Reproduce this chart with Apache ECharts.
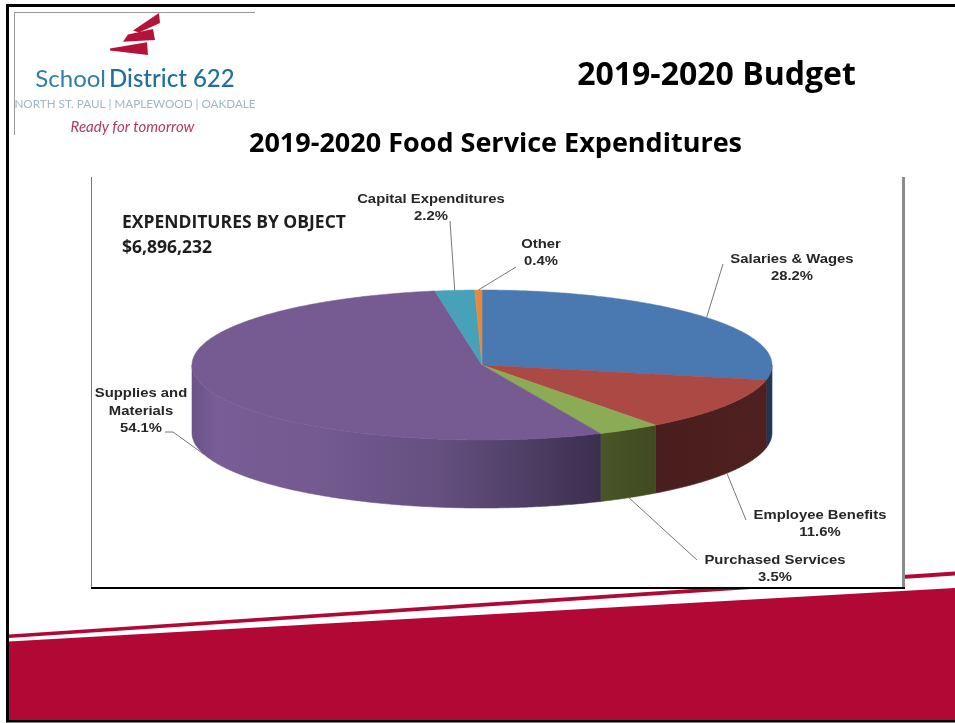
<!DOCTYPE html>
<html>
<head>
<meta charset="utf-8">
<style>html,body{margin:0;padding:0;background:#fff}#main{width:955px;height:723px}</style>
<script src="https://cdn.jsdelivr.net/npm/echarts@6/dist/echarts.min.js"></script>
</head>
<body>
<div id="main"></div>
<script>
// Expenditure shares, percent of the food service budget
const categories = ['Salaries & Wages', 'Employee Benefits', 'Purchased Services',
  'Supplies and\nMaterials', 'Capital Expenditures', 'Other'];
const shares = [28.2, 11.6, 3.5, 54.1, 2.2, 0.4];

// Slice paint
const topColors = ['#4a79b1', '#ab4945', '#8cab55', '#765b92', '#46a1b9', '#e58a3c'];
const wallColors = [
  [[0, '#1c3552'], [1, '#1f3a5a']],
  [[0, '#4a1e1e'], [1, '#4f2020']],
  [[0, '#4a5628'], [1, '#3f4a20']],
  [[0, '#6b5288'], [0.06, '#785d96'], [0.3, '#745a90'], [0.6, '#655080'], [1, '#3b2f4f']],
  [[0, '#2c6473'], [1, '#2c6473']],
  [[0, '#8f5424'], [1, '#8f5424']]
];

// Pie geometry in page pixels
const CX = 482, CY = 365, RX = 290, RY = 75, DEPTH = 68;

// Label placement: text centre, then the outer end(s) of the leader line
const labelCenters = [[792, 268], [820, 524], [775, 569], [141, 411], [431, 208], [541, 253]];
const leaderEnds = [
  [[723, 264]],
  [[746, 520]],
  [[697, 560]],
  [[173, 432], [165, 432]],
  [[450, 221]],
  [[516, 267]]
];

const total = shares.reduce((a, b) => a + b, 0);
const spans = [];
shares.reduce((acc, v) => {
  spans.push([acc / total * Math.PI * 2, (acc + v) / total * Math.PI * 2]);
  return acc + v;
}, 0);

function rimPoint(theta, drop) {
  return [CX + RX * Math.sin(theta), CY - RY * Math.cos(theta) + (drop || 0)];
}
function arcPoints(a, b, drop) {
  const n = Math.max(2, Math.ceil((b - a) / 0.01));
  const pts = [];
  for (let i = 0; i <= n; i++) pts.push(rimPoint(a + (b - a) * i / n, drop));
  return pts;
}

// Only the near half of the rim shows a wall
function renderWall(params) {
  const i = params.dataIndex;
  const a = Math.max(spans[i][0], Math.PI / 2);
  const b = Math.min(spans[i][1], Math.PI * 1.5);
  if (b <= a) return null;
  const pts = arcPoints(a, b, 0).concat(arcPoints(a, b, DEPTH).reverse());
  const left = rimPoint(b, 0)[0] < rimPoint(a, 0)[0];
  const stops = wallColors[i].map(s => ({ offset: s[0], color: s[1] }));
  const fill = new echarts.graphic.LinearGradient(left ? 0 : 1, 0, left ? 1 : 0, 0, stops);
  return { type: 'polygon', shape: { points: pts }, style: { fill: fill, stroke: fill, lineWidth: 0.6 } };
}

function renderTop(params) {
  const i = params.dataIndex;
  const pts = [[CX, CY]].concat(arcPoints(spans[i][0], spans[i][1], 0));
  return {
    type: 'polygon', shape: { points: pts },
    style: { fill: topColors[i], stroke: topColors[i], lineWidth: 0.5 }
  };
}

function renderLabel(params) {
  const i = params.dataIndex;
  const mid = (spans[i][0] + spans[i][1]) / 2;
  const near = Math.cos(mid) < 0;
  const anchor = rimPoint(mid, near ? DEPTH : 0);
  const c = labelCenters[i];
  return {
    type: 'group',
    children: [
      {
        type: 'polyline',
        shape: { points: [anchor].concat(leaderEnds[i]) },
        style: { fill: null, stroke: '#777', lineWidth: 1 }
      },
      {
        type: 'text',
        x: c[0], y: c[1], scaleX: 1.1,
        style: {
          x: 0, y: 0,
          text: categories[i] + '\n' + shares[i].toFixed(1) + '%',
          align: 'center', verticalAlign: 'middle',
          font: 'bold 13.5px "Liberation Sans", Arial, sans-serif',
          lineHeight: 17.5, fill: '#262626'
        }
      }
    ]
  };
}

const RED = '#b10836';
const pageGraphics = [
  // Slide frame
  { type: 'rect', z: 1, shape: { x: 7.5, y: 5.5, width: 960, height: 715.5 },
    style: { fill: '#fff', stroke: '#000', lineWidth: 3 } },
  // Bottom band and thin stripe
  { type: 'polygon', z: 2, shape: { points: [[9, 641.5], [955, 588], [955, 720], [9, 720]] }, style: { fill: RED } },
  { type: 'polygon', z: 2, shape: { points: [[9, 634.5], [955, 571.5], [955, 575.5], [9, 638]] }, style: { fill: RED } },
  // Chart panel
  { type: 'rect', z: 3, shape: { x: 91, y: 177, width: 813, height: 411 }, style: { fill: '#fff' } },
  { type: 'line', z: 4, shape: { x1: 91.5, y1: 177, x2: 91.5, y2: 588 }, style: { stroke: '#777', lineWidth: 1 } },
  { type: 'line', z: 4, shape: { x1: 903.5, y1: 177, x2: 903.5, y2: 589 }, style: { stroke: '#8a8a8a', lineWidth: 3 } },
  { type: 'line', z: 4, shape: { x1: 91, y1: 588, x2: 905, y2: 588 }, style: { stroke: '#000', lineWidth: 2 } },
  // Logo frame and mark
  { type: 'line', z: 4, shape: { x1: 14, y1: 12.5, x2: 255, y2: 12.5 }, style: { stroke: '#999', lineWidth: 1 } },
  { type: 'line', z: 4, shape: { x1: 14.5, y1: 12, x2: 14.5, y2: 135 }, style: { stroke: '#999', lineWidth: 1 } },
  { type: 'polygon', z: 4, shape: { points: [[159, 13], [160, 23], [139, 32.5], [133, 30.5]] }, style: { fill: '#b5123a' } },
  { type: 'polygon', z: 4, shape: { points: [[128, 34.5], [153, 29], [155, 40], [123, 41.7]] }, style: { fill: '#b5123a' } },
  { type: 'polygon', z: 4, shape: { points: [[110, 48.5], [147, 42.3], [148, 55], [110, 50.5]] }, style: { fill: '#b5123a' } },
  { type: 'text', z: 4, style: {
      x: 135, y: 79, align: 'center', verticalAlign: 'middle',
      text: '{a|School}{b|District 622}',
      rich: {
        a: { font: '400 24px Lato, sans-serif', fill: '#2f7fa8' },
        b: { font: '500 24px Lato, sans-serif', fill: '#1f6f9e', padding: [0, 0, 0, 3] }
      }
  } },
  { type: 'text', z: 4, style: {
      x: 135, y: 104.5, align: 'center', verticalAlign: 'middle',
      text: 'NORTH ST. PAUL | MAPLEWOOD | OAKDALE',
      font: '400 11.7px Lato, sans-serif', fill: '#9db8ca'
  } },
  { type: 'text', z: 4, style: {
      x: 132.5, y: 127.5, align: 'center', verticalAlign: 'middle',
      text: 'Ready for tomorrow',
      font: 'italic 400 15px Lato, sans-serif', fill: '#b33a5f'
  } },
  // Headings
  { type: 'text', z: 4, style: {
      x: 716.5, y: 76, align: 'center', verticalAlign: 'middle',
      text: '2019-2020 Budget', font: 'bold 32px "Open Sans", sans-serif', fill: '#000'
  } },
  { type: 'text', z: 4, style: {
      x: 495.5, y: 144, align: 'center', verticalAlign: 'middle',
      text: '2019-2020 Food Service Expenditures', font: 'bold 27px "Open Sans", sans-serif', fill: '#000'
  } },
  { type: 'text', z: 4, style: {
      x: 122, y: 223, align: 'left', verticalAlign: 'middle',
      text: 'EXPENDITURES BY OBJECT', font: 'bold 17.5px "Open Sans", sans-serif', fill: '#1e1e1e'
  } },
  { type: 'text', z: 4, style: {
      x: 122, y: 248, align: 'left', verticalAlign: 'middle',
      text: '$6,896,232', font: 'bold 17.5px "Open Sans", sans-serif', fill: '#1e1e1e'
  } }
];

const chart = echarts.init(document.getElementById('main'), null, { renderer: 'canvas' });
const seriesData = shares.map((v, i) => ({ name: categories[i], value: v }));
chart.setOption({
  animation: false,
  backgroundColor: '#fff',
  graphic: { elements: pageGraphics },
  series: [
    { type: 'custom', coordinateSystem: 'none', z: 10, silent: true, renderItem: renderWall, data: seriesData },
    { type: 'custom', coordinateSystem: 'none', z: 11, silent: true, renderItem: renderTop, data: seriesData },
    { type: 'custom', coordinateSystem: 'none', z: 12, silent: true, renderItem: renderLabel, data: seriesData }
  ]
});
</script>
</body>
</html>
